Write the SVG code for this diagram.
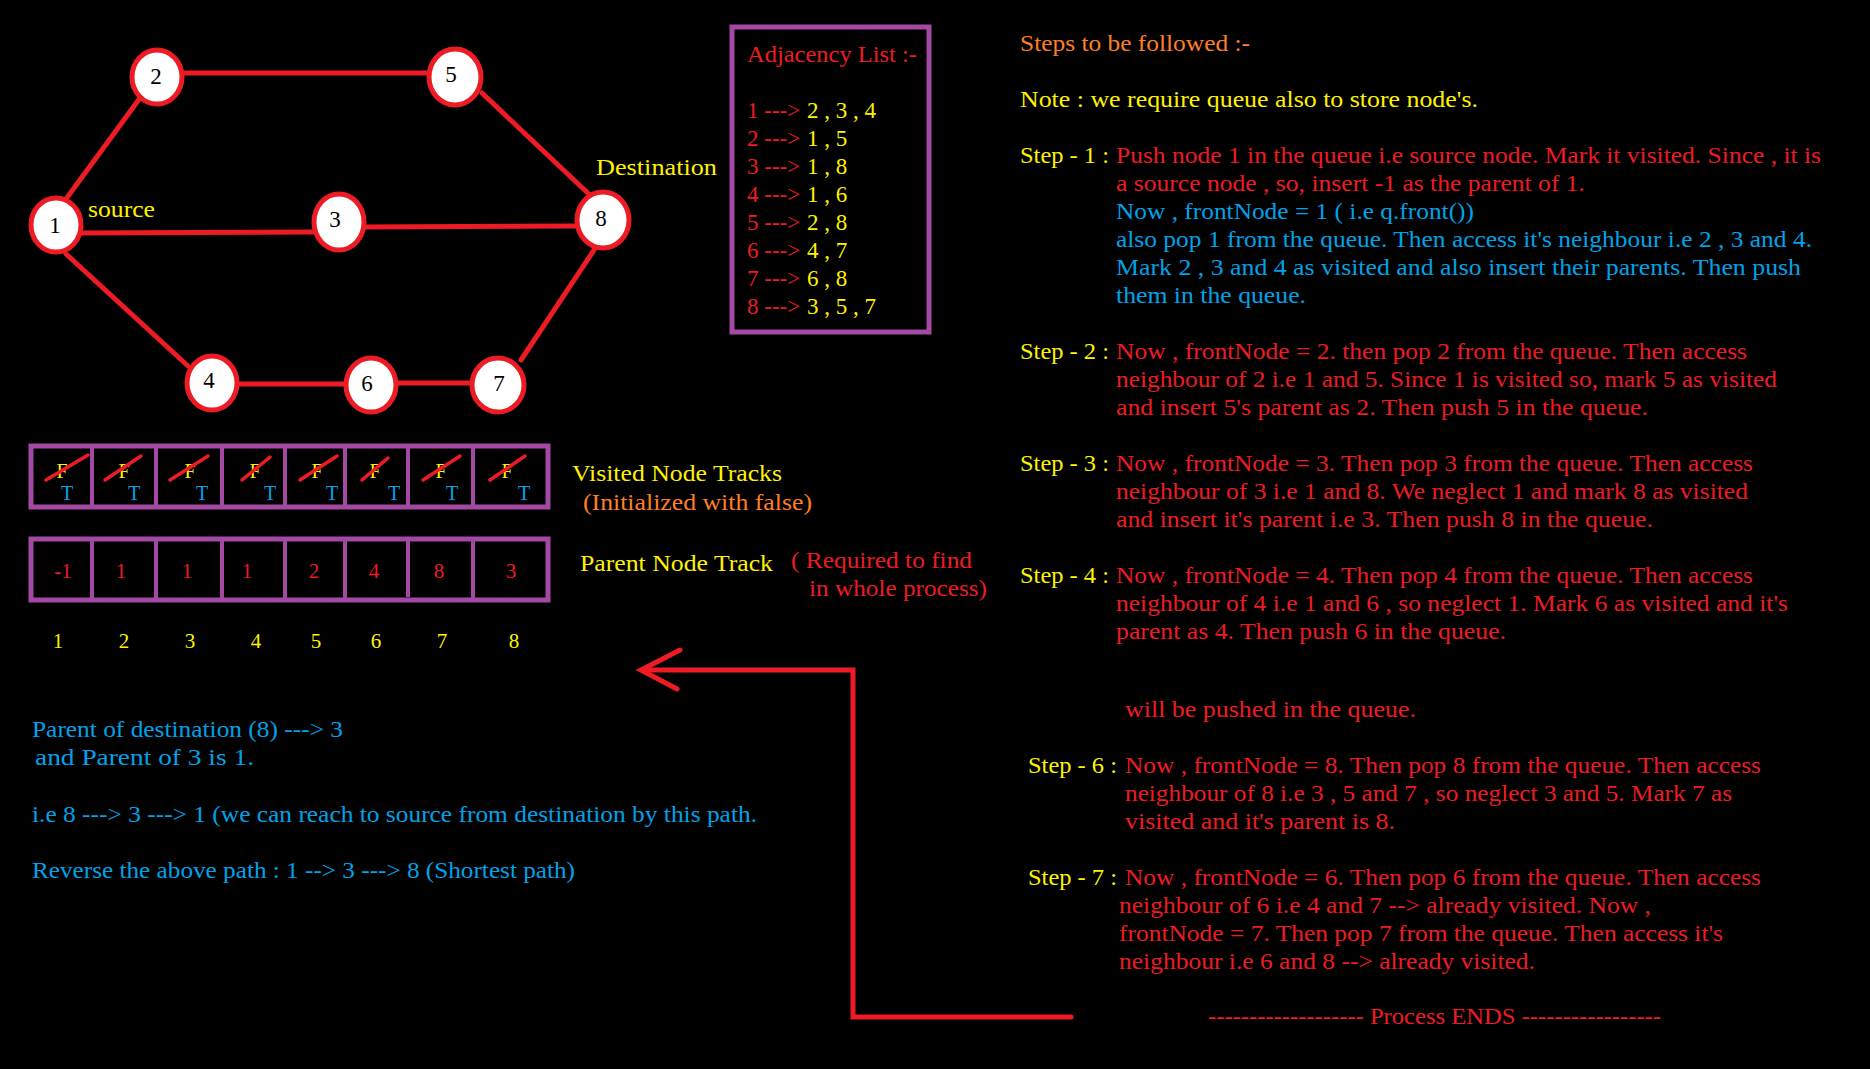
<svg xmlns="http://www.w3.org/2000/svg" width="1870" height="1069" viewBox="0 0 1870 1069">
<style>
text{font-family:"Liberation Serif","Times New Roman",serif;font-size:23px}
.r{fill:#ed1c24}.y{fill:#fff200}.b{fill:#00a2e8}.o{fill:#ff7f27}.k{fill:#000}
.node ellipse{fill:#fff;stroke:#ed1c24;stroke-width:5}
.node text{font-size:23px;text-anchor:middle;fill:#000}
.edge{stroke:#ed1c24;stroke-width:5;fill:none;stroke-linecap:round}
.box{fill:none;stroke:#a349a4;stroke-width:5}
.div{stroke:#a349a4;stroke-width:4}
.strike{stroke:#ed1c24;stroke-width:3.5;stroke-linecap:round}
.c{text-anchor:middle}
</style>
<rect x="0" y="0" width="1870" height="1069" fill="#000"/>

<g id="connectors">
<line class="edge" x1="66" y1="199" x2="140" y2="98"/>
<line class="edge" x1="180" y1="73" x2="429" y2="73"/>
<line class="edge" x1="482" y1="93" x2="592" y2="197"/>
<line class="edge" x1="82" y1="233" x2="313" y2="232"/>
<line class="edge" x1="365" y1="227" x2="576" y2="226"/>
<line class="edge" x1="66" y1="254" x2="188" y2="366"/>
<line class="edge" x1="238" y1="384" x2="345" y2="384"/>
<line class="edge" x1="397" y1="383" x2="472" y2="383"/>
<line class="edge" x1="521" y1="360" x2="594" y2="250"/>
<path class="edge" d="M1071 1017 H853 V670 H644"/>
<path class="edge" d="M680 650 L641 670 L677 689"/>
</g>

<g id="node1" class="node"><ellipse cx="56" cy="225" rx="25" ry="27"/><text x="55" y="233">1</text></g>
<g id="node2" class="node"><ellipse cx="157" cy="77" rx="25" ry="27"/><text x="156" y="84">2</text></g>
<g id="node5" class="node"><ellipse cx="455" cy="77" rx="26" ry="28"/><text x="451" y="82">5</text></g>
<g id="node3" class="node"><ellipse cx="339" cy="222" rx="25" ry="28"/><text x="335" y="227">3</text></g>
<g id="node8" class="node"><ellipse cx="603" cy="220" rx="26" ry="28"/><text x="601" y="226">8</text></g>
<g id="node4" class="node"><ellipse cx="212" cy="383" rx="25" ry="27"/><text x="209" y="388">4</text></g>
<g id="node6" class="node"><ellipse cx="371" cy="385" rx="25" ry="27"/><text x="367" y="391">6</text></g>
<g id="node7" class="node"><ellipse cx="498" cy="385" rx="26" ry="27"/><text x="499" y="391">7</text></g>

<g id="graph-labels">
<text class="y" x="88" y="217" textLength="67" lengthAdjust="spacingAndGlyphs">source</text>
<text class="y" x="596" y="175" textLength="121" lengthAdjust="spacingAndGlyphs">Destination</text>
</g>

<g id="adjacency-list">
<rect class="box" x="732" y="27" width="197" height="305"/>
<text class="r" x="747" y="62" textLength="170" lengthAdjust="spacingAndGlyphs">Adjacency List :-</text>
<text class="r" x="747" y="118">1 ---&gt;</text><text class="y" x="807" y="118">2 , 3 , 4</text>
<text class="r" x="747" y="146">2 ---&gt;</text><text class="y" x="807" y="146">1 , 5</text>
<text class="r" x="747" y="174">3 ---&gt;</text><text class="y" x="807" y="174">1 , 8</text>
<text class="r" x="747" y="202">4 ---&gt;</text><text class="y" x="807" y="202">1 , 6</text>
<text class="r" x="747" y="230">5 ---&gt;</text><text class="y" x="807" y="230">2 , 8</text>
<text class="r" x="747" y="258">6 ---&gt;</text><text class="y" x="807" y="258">4 , 7</text>
<text class="r" x="747" y="286">7 ---&gt;</text><text class="y" x="807" y="286">6 , 8</text>
<text class="r" x="747" y="314">8 ---&gt;</text><text class="y" x="807" y="314">3 , 5 , 7</text>
</g>

<g id="visited-array">
<rect class="box" x="31" y="446" width="517" height="61"/>
<line class="div" x1="92" y1="446" x2="92" y2="507"/>
<line class="div" x1="156" y1="446" x2="156" y2="507"/>
<line class="div" x1="222" y1="446" x2="222" y2="507"/>
<line class="div" x1="285" y1="446" x2="285" y2="507"/>
<line class="div" x1="345" y1="446" x2="345" y2="507"/>
<line class="div" x1="408" y1="446" x2="408" y2="507"/>
<line class="div" x1="473" y1="446" x2="473" y2="507"/>
<text class="y c" x="62" y="478" style="font-size:20px">F</text>
<text class="y c" x="124" y="478" style="font-size:20px">F</text>
<text class="y c" x="190" y="478" style="font-size:20px">F</text>
<text class="y c" x="255" y="478" style="font-size:20px">F</text>
<text class="y c" x="317" y="478" style="font-size:20px">F</text>
<text class="y c" x="375" y="478" style="font-size:20px">F</text>
<text class="y c" x="441" y="478" style="font-size:20px">F</text>
<text class="y c" x="507" y="478" style="font-size:20px">F</text>
<text class="b c" x="67" y="500" style="font-size:20px">T</text>
<text class="b c" x="134" y="500" style="font-size:20px">T</text>
<text class="b c" x="202" y="500" style="font-size:20px">T</text>
<text class="b c" x="270" y="500" style="font-size:20px">T</text>
<text class="b c" x="332" y="500" style="font-size:20px">T</text>
<text class="b c" x="394" y="500" style="font-size:20px">T</text>
<text class="b c" x="452" y="500" style="font-size:20px">T</text>
<text class="b c" x="524" y="500" style="font-size:20px">T</text>
<line class="strike" x1="46" y1="480" x2="88" y2="455"/>
<line class="strike" x1="105" y1="480" x2="141" y2="456"/>
<line class="strike" x1="170" y1="480" x2="208" y2="456"/>
<line class="strike" x1="242" y1="480" x2="270" y2="457"/>
<line class="strike" x1="300" y1="480" x2="337" y2="456"/>
<line class="strike" x1="362" y1="480" x2="388" y2="458"/>
<line class="strike" x1="423" y1="480" x2="460" y2="456"/>
<line class="strike" x1="490" y1="480" x2="525" y2="456"/>
<text class="y" x="572" y="481" textLength="210" lengthAdjust="spacingAndGlyphs">Visited Node Tracks</text>
<text class="o" x="583" y="510" textLength="229" lengthAdjust="spacingAndGlyphs">(Initialized with false)</text>
</g>

<g id="parent-array">
<rect class="box" x="31" y="539" width="517" height="61"/>
<line class="div" x1="92" y1="539" x2="92" y2="600"/>
<line class="div" x1="156" y1="539" x2="156" y2="600"/>
<line class="div" x1="222" y1="539" x2="222" y2="600"/>
<line class="div" x1="285" y1="539" x2="285" y2="600"/>
<line class="div" x1="345" y1="539" x2="345" y2="600"/>
<line class="div" x1="408" y1="539" x2="408" y2="597"/>
<line class="div" x1="473" y1="539" x2="473" y2="600"/>
<text class="r c" x="63" y="578" style="font-size:21px">-1</text>
<text class="r c" x="121" y="578" style="font-size:21px">1</text>
<text class="r c" x="187" y="578" style="font-size:21px">1</text>
<text class="r c" x="247" y="578" style="font-size:21px">1</text>
<text class="r c" x="314" y="578" style="font-size:21px">2</text>
<text class="r c" x="374" y="578" style="font-size:21px">4</text>
<text class="r c" x="439" y="578" style="font-size:21px">8</text>
<text class="r c" x="511" y="578" style="font-size:21px">3</text>
<text class="y c" x="58" y="648" style="font-size:21px">1</text>
<text class="y c" x="124" y="648" style="font-size:21px">2</text>
<text class="y c" x="190" y="648" style="font-size:21px">3</text>
<text class="y c" x="256" y="648" style="font-size:21px">4</text>
<text class="y c" x="316" y="648" style="font-size:21px">5</text>
<text class="y c" x="376" y="648" style="font-size:21px">6</text>
<text class="y c" x="442" y="648" style="font-size:21px">7</text>
<text class="y c" x="514" y="648" style="font-size:21px">8</text>
<text class="y" x="580" y="571" textLength="193" lengthAdjust="spacingAndGlyphs">Parent Node Track</text>
<text class="r" x="791" y="568" textLength="181" lengthAdjust="spacingAndGlyphs">( Required to find</text>
<text class="r" x="809" y="596" textLength="178" lengthAdjust="spacingAndGlyphs">in whole process)</text>
</g>

<g id="steps">
<text class="o" x="1020" y="51" textLength="230" lengthAdjust="spacingAndGlyphs">Steps to be followed :-</text>
<text class="y" x="1020" y="107" textLength="458" lengthAdjust="spacingAndGlyphs">Note : we require queue also to store node's.</text>

<text class="y" x="1020" y="163" textLength="89" lengthAdjust="spacingAndGlyphs">Step - 1 :</text>
<text class="r" x="1116" y="163" textLength="705" lengthAdjust="spacingAndGlyphs">Push node 1 in the queue i.e source node. Mark it visited. Since , it is</text>
<text class="r" x="1116" y="191" textLength="469" lengthAdjust="spacingAndGlyphs">a source node , so, insert -1 as the parent of 1.</text>
<text class="b" x="1116" y="219" textLength="358" lengthAdjust="spacingAndGlyphs">Now , frontNode = 1 ( i.e q.front())</text>
<text class="b" x="1116" y="247" textLength="696" lengthAdjust="spacingAndGlyphs">also pop 1 from the queue. Then access it's neighbour i.e 2 , 3 and 4.</text>
<text class="b" x="1116" y="275" textLength="685" lengthAdjust="spacingAndGlyphs">Mark 2 , 3 and 4 as visited and also insert their parents. Then push</text>
<text class="b" x="1116" y="303" textLength="190" lengthAdjust="spacingAndGlyphs">them in the queue.</text>

<text class="y" x="1020" y="359" textLength="89" lengthAdjust="spacingAndGlyphs">Step - 2 :</text>
<text class="r" x="1116" y="359" textLength="631" lengthAdjust="spacingAndGlyphs">Now , frontNode = 2. then pop 2 from the queue. Then access</text>
<text class="r" x="1116" y="387" textLength="661" lengthAdjust="spacingAndGlyphs">neighbour of 2 i.e 1 and 5. Since 1 is visited so, mark 5 as visited</text>
<text class="r" x="1116" y="415" textLength="532" lengthAdjust="spacingAndGlyphs">and insert 5's parent as 2. Then push 5 in the queue.</text>

<text class="y" x="1020" y="471" textLength="89" lengthAdjust="spacingAndGlyphs">Step - 3 :</text>
<text class="r" x="1116" y="471" textLength="637" lengthAdjust="spacingAndGlyphs">Now , frontNode = 3. Then pop 3 from the queue. Then access</text>
<text class="r" x="1116" y="499" textLength="632" lengthAdjust="spacingAndGlyphs">neighbour of 3 i.e 1 and 8. We neglect 1 and mark 8 as visited</text>
<text class="r" x="1116" y="527" textLength="537" lengthAdjust="spacingAndGlyphs">and insert it's parent i.e 3. Then push 8 in the queue.</text>

<text class="y" x="1020" y="583" textLength="89" lengthAdjust="spacingAndGlyphs">Step - 4 :</text>
<text class="r" x="1116" y="583" textLength="637" lengthAdjust="spacingAndGlyphs">Now , frontNode = 4. Then pop 4 from the queue. Then access</text>
<text class="r" x="1116" y="611" textLength="672" lengthAdjust="spacingAndGlyphs">neighbour of 4 i.e 1 and 6 , so neglect 1. Mark 6 as visited and it's</text>
<text class="r" x="1116" y="639" textLength="390" lengthAdjust="spacingAndGlyphs">parent as 4. Then push 6 in the queue.</text>

<text class="r" x="1125" y="717" textLength="291" lengthAdjust="spacingAndGlyphs">will be pushed in the queue.</text>

<text class="y" x="1028" y="773" textLength="89" lengthAdjust="spacingAndGlyphs">Step - 6 :</text>
<text class="r" x="1125" y="773" textLength="636" lengthAdjust="spacingAndGlyphs">Now , frontNode = 8. Then pop 8 from the queue. Then access</text>
<text class="r" x="1125" y="801" textLength="607" lengthAdjust="spacingAndGlyphs">neighbour of 8 i.e 3 , 5 and 7 , so neglect 3 and 5. Mark 7 as</text>
<text class="r" x="1125" y="829" textLength="270" lengthAdjust="spacingAndGlyphs">visited and it's parent is 8.</text>

<text class="y" x="1028" y="885" textLength="89" lengthAdjust="spacingAndGlyphs">Step - 7 :</text>
<text class="r" x="1125" y="885" textLength="636" lengthAdjust="spacingAndGlyphs">Now , frontNode = 6. Then pop 6 from the queue. Then access</text>
<text class="r" x="1119" y="913" textLength="532" lengthAdjust="spacingAndGlyphs">neighbour of 6 i.e 4 and 7 --&gt; already visited. Now ,</text>
<text class="r" x="1119" y="941" textLength="604" lengthAdjust="spacingAndGlyphs">frontNode = 7. Then pop 7 from the queue. Then access it's</text>
<text class="r" x="1119" y="969" textLength="416" lengthAdjust="spacingAndGlyphs">neighbour i.e 6 and 8 --&gt; already visited.</text>

<text class="r" x="1208" y="1024" textLength="453" lengthAdjust="spacingAndGlyphs">------------------- Process ENDS -----------------</text>
</g>

<g id="path-notes">
<text class="b" x="32" y="737" textLength="311" lengthAdjust="spacingAndGlyphs">Parent of destination (8) ---&gt; 3</text>
<text class="b" x="35" y="765" textLength="219" lengthAdjust="spacingAndGlyphs">and Parent of 3 is 1.</text>
<text class="b" x="32" y="822" textLength="725" lengthAdjust="spacingAndGlyphs">i.e 8 ---&gt; 3 ---&gt; 1 (we can reach to source from destination by this path.</text>
<text class="b" x="32" y="878" textLength="543" lengthAdjust="spacingAndGlyphs">Reverse the above path : 1 --&gt; 3 ---&gt; 8 (Shortest path)</text>
</g>
</svg>
